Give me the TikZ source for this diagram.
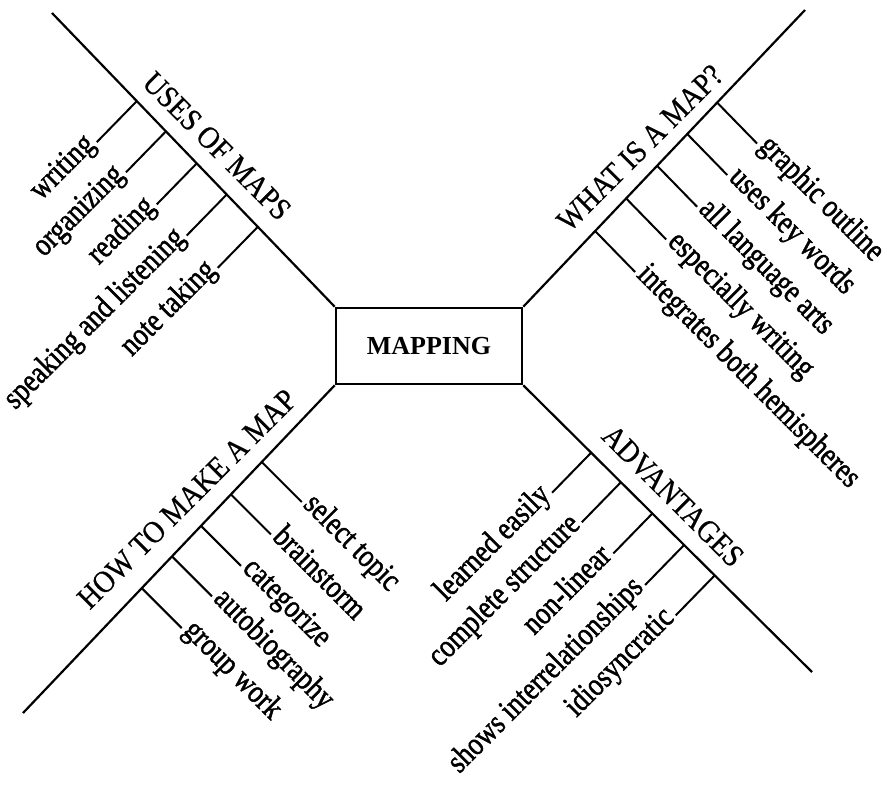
\documentclass[tikz,border=0pt]{standalone}
\usepackage{fontspec}
\setmainfont{Liberation Serif}
\newfontfamily\leaffont{Liberation Serif}[FakeBold=1.6]
\newfontfamily\headfont{Liberation Serif}[FakeBold=0.6]
\usetikzlibrary{calc}
% taller glyphs for the branch words and headings
\newcommand\tallleaf[1]{\scalebox{1}[1.2]{#1}}
\newcommand\tallhead[1]{\scalebox{1}[1.12]{#1}}
\begin{document}
\begin{tikzpicture}[x=1pt,y=-1pt,
  trunk/.style={line width=2.2pt},
  twig/.style={line width=2pt},
  hub/.style={draw, line width=2.6pt, minimum width=186pt, minimum height=76pt,
    font=\bfseries\fontsize{26}{28}\selectfont},
  heading/.style={font=\headfont\fontsize{28}{30}\selectfont, inner sep=0pt},
  leaf/.style={font=\leaffont\fontsize{27}{30}\selectfont, inner sep=3pt}]
\useasboundingbox (0,0) rectangle (893,788);

% central box
\node[hub] (map) at (429,346) {MAPPING};

% free ends of the four trunks
\coordinate (ulEnd) at (52,13);
\coordinate (urEnd) at (805,10);
\coordinate (llEnd) at (23,713);
\coordinate (lrEnd) at (812,672);

\draw[trunk] (map.north west) -- (ulEnd);
\draw[trunk] (map.north east) -- (urEnd);
\draw[trunk] (map.south west) -- (llEnd);
\draw[trunk] (map.south east) -- (lrEnd);

% headings along the trunks
\node[heading, rotate=-45] (hUses) at (217,146) {\tallhead{USES OF MAPS}};
\node[heading, rotate=45]  (hWhat) at (640,148) {\tallhead{WHAT IS A MAP?}};
\node[heading, rotate=45]  (hHow)  at (187,499) {\tallhead{HOW TO MAKE A MAP}};
\node[heading, rotate=-45] (hAdv)  at (673,496) {\tallhead{ADVANTAGES}};

% upper left: uses of maps
\foreach \t/\txt [count=\i] in {0.700/writing, 0.597/organizing, 0.488/reading,
    0.382/speaking and listening, 0.272/note taking} {
  \coordinate (ul\i) at ($(map.north west)!\t!(ulEnd)$);
  \node[leaf, rotate=45, anchor=mid east] (ulL\i) at ($(ul\i)+(-40,41)$) {\tallleaf{\txt}};
  \draw[twig] (ul\i) -- (ulL\i.mid east);
}

% upper right: what is a map?
\foreach \t/\txt [count=\i] in {0.688/graphic outline, 0.582/uses key words,
    0.475/all language arts, 0.365/especially writing, 0.255/integrates both hemispheres} {
  \coordinate (ur\i) at ($(map.north east)!\t!(urEnd)$);
  \node[leaf, rotate=-45, anchor=mid west] (urL\i) at ($(ur\i)+(40,41)$) {\tallleaf{\txt}};
  \draw[twig] (ur\i) -- (urL\i.mid west);
}

% lower left: how to make a map
\foreach \t/\txt [count=\i] in {0.234/select topic, 0.333/brainstorm, 0.429/categorize,
    0.522/autobiography, 0.619/group work} {
  \coordinate (ll\i) at ($(map.south west)!\t!(llEnd)$);
  \node[leaf, rotate=-45, anchor=mid west] (llL\i) at ($(ll\i)+(40,40)$) {\tallleaf{\txt}};
  \draw[twig] (ll\i) -- (llL\i.mid west);
}

% lower right: advantages
\foreach \t/\txt [count=\i] in {0.235/learned easily, 0.338/complete structure,
    0.447/non-linear, 0.557/shows interrelationships, 0.663/idiosyncratic} {
  \coordinate (lr\i) at ($(map.south east)!\t!(lrEnd)$);
  \node[leaf, rotate=45, anchor=mid east] (lrL\i) at ($(lr\i)+(-39,40)$) {\tallleaf{\txt}};
  \draw[twig] (lr\i) -- (lrL\i.mid east);
}
\end{tikzpicture}
\end{document}
